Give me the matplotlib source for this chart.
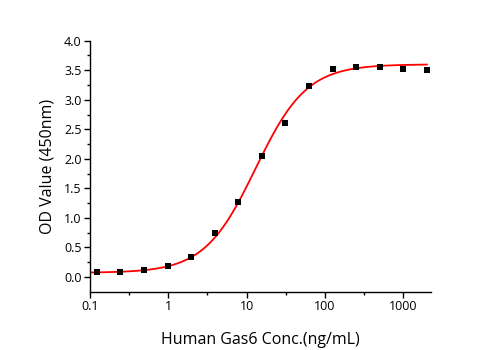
import numpy as np
import matplotlib
matplotlib.use("Agg")
import matplotlib.pyplot as plt
from matplotlib.ticker import FixedLocator, NullFormatter

# Serial 2-fold dilution of Gas6, ng/mL
conc = [0.122, 0.244, 0.488, 0.977, 1.953, 3.906, 7.8125, 15.625,
        31.25, 62.5, 125, 250, 500, 1000, 2000]
od = [0.08, 0.08, 0.11, 0.19, 0.33, 0.74, 1.27, 2.05,
      2.61, 3.24, 3.52, 3.56, 3.56, 3.52, 3.50]

# 4-parameter logistic fit
fit_bottom = 0.07
fit_top = 3.60
fit_ec50 = 13.0
fit_hill = 1.33

x_ticks = [0.1, 1, 10, 100, 1000]
x_tick_labels = ["0.1", "1", "10", "100", "1000"]
y_ticks = [0.0, 0.5, 1.0, 1.5, 2.0, 2.5, 3.0, 3.5, 4.0]

plt.rcParams["font.family"] = ["Open Sans", "DejaVu Sans"]

fig = plt.figure(figsize=(5.01, 3.5), dpi=100)
ax = fig.add_axes([90/501, 1 - 291.7/350, (431-90)/501, (291.7-40.7)/350])

xs = np.logspace(np.log10(0.1), np.log10(2000), 300)
ys = fit_bottom + (fit_top - fit_bottom) / (1 + (fit_ec50 / xs) ** fit_hill)
ax.plot(xs, ys, color="red", lw=1.3, zorder=2)
ax.scatter(conc, od, marker="s", s=22, color="black", zorder=3, linewidths=0)

ax.set_xscale("log")
ax.set_xlim(0.1, 2260)
ax.set_ylim(-0.25, 4.0)

ax.xaxis.set_major_locator(FixedLocator(x_ticks))
ax.set_xticklabels(x_tick_labels)
ax.xaxis.set_minor_locator(FixedLocator([10 ** (k + 0.5) for k in range(-1, 3)]))
ax.xaxis.set_minor_formatter(NullFormatter())
ax.set_yticks(y_ticks)
ax.set_yticklabels([f"{v:.1f}" for v in y_ticks])
ax.yaxis.set_minor_locator(FixedLocator(np.arange(0.25, 4.0, 0.5)))

for s in ["top", "right"]:
    ax.spines[s].set_visible(False)
ax.spines["left"].set_linewidth(1.0)
ax.spines["bottom"].set_linewidth(1.0)
ax.tick_params(which="major", direction="out", length=4, width=1, labelsize=9, pad=2)
ax.tick_params(which="minor", direction="out", length=2.5, width=1)

ax.set_xlabel("Human Gas6 Conc.(ng/mL)", fontsize=11.5, labelpad=14)
ax.set_ylabel("OD Value (450nm)", fontsize=11.5, labelpad=6)

fig.savefig("out.png", dpi=100)
